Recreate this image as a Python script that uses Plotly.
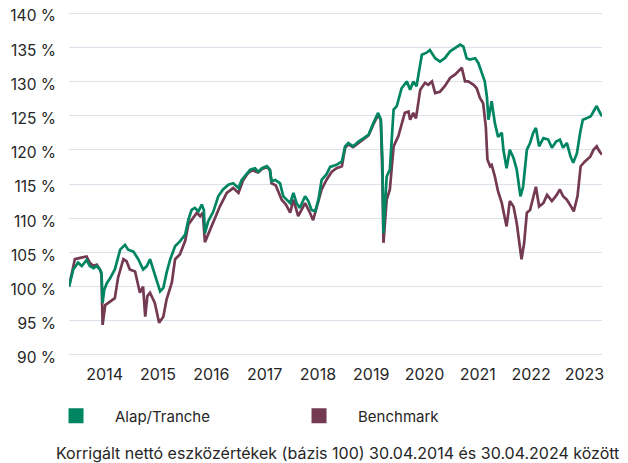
import plotly.graph_objects as go

# ---- data ----
fund_name = "Alap/Tranche"
bench_name = "Benchmark"

fund_t = [2014.33, 2014.41, 2014.50, 2014.57, 2014.66, 2014.72, 2014.79, 2014.85, 2014.91, 2014.94,
          2014.96, 2014.99, 2015.04, 2015.10, 2015.19, 2015.29, 2015.38, 2015.44, 2015.54, 2015.63,
          2015.72, 2015.79, 2015.85, 2015.91, 2015.98, 2016.04, 2016.10, 2016.16, 2016.23, 2016.32,
          2016.41, 2016.51, 2016.57, 2016.63, 2016.69, 2016.76, 2016.82, 2016.86, 2016.88, 2016.94,
          2017.04, 2017.13, 2017.22, 2017.32, 2017.41, 2017.51, 2017.57, 2017.66, 2017.73, 2017.82,
          2017.88, 2017.95, 2018.04, 2018.10, 2018.13, 2018.20, 2018.29, 2018.35, 2018.41, 2018.48,
          2018.54, 2018.60, 2018.66, 2018.76, 2018.82, 2018.88, 2018.95, 2019.01, 2019.07, 2019.16,
          2019.23, 2019.35, 2019.45, 2019.51, 2019.57, 2019.66, 2019.76, 2019.85, 2019.95, 2020.04,
          2020.13, 2020.18, 2020.21, 2020.23, 2020.29, 2020.35, 2020.42, 2020.48, 2020.57, 2020.67,
          2020.73, 2020.79, 2020.85, 2020.95, 2021.04, 2021.10, 2021.20, 2021.29, 2021.38, 2021.48,
          2021.57, 2021.67, 2021.73, 2021.79, 2021.85, 2021.95, 2022.01, 2022.07, 2022.13, 2022.17,
          2022.20, 2022.26, 2022.32, 2022.38, 2022.45, 2022.48, 2022.54, 2022.60, 2022.67, 2022.73,
          2022.80, 2022.85, 2022.92, 2022.98, 2023.04, 2023.09, 2023.15, 2023.23, 2023.32, 2023.39,
          2023.47, 2023.54, 2023.60, 2023.67, 2023.74, 2023.79, 2023.86, 2023.92, 2023.97, 2024.04,
          2024.12, 2024.17, 2024.23, 2024.28, 2024.33]
fund_v = [100.0, 102.5, 103.5, 103.0, 103.9, 103.0, 102.7, 103.0, 102.5, 102.0,
          97.6, 99.5, 100.5, 101.2, 102.5, 105.4, 106.1, 105.4, 105.1, 104.0,
          102.5, 103.0, 104.0, 102.5, 100.5, 99.3, 99.8, 102.0, 104.0, 105.9,
          106.6, 107.6, 109.8, 111.2, 111.5, 111.0, 112.0, 111.2, 107.8, 109.5,
          111.0, 113.2, 114.2, 114.9, 115.1, 114.4, 115.6, 116.4, 117.1, 117.3,
          116.8, 117.3, 117.6, 117.1, 115.4, 115.6, 115.1, 113.2, 112.7, 112.2,
          113.7, 112.2, 111.5, 113.2, 112.5, 111.2, 111.0, 112.7, 115.6, 116.4,
          117.5, 117.8, 118.3, 120.5, 121.0, 120.5, 121.2, 121.7, 122.2, 123.9,
          125.4, 124.4, 118.6, 107.8, 116.1, 117.1, 125.9, 126.4, 129.0, 130.0,
          128.8, 130.0, 129.3, 133.9, 134.2, 134.6, 133.4, 132.9, 133.4, 134.4,
          134.9, 135.4, 135.1, 133.4, 133.2, 133.4, 132.7, 131.5, 130.0, 127.8,
          124.4, 127.1, 123.9, 121.9, 122.5, 120.0, 117.3, 120.0, 118.8, 117.1,
          113.2, 114.6, 120.0, 121.0, 122.5, 123.2, 120.5, 121.7, 121.5, 120.3,
          121.2, 121.5, 120.3, 121.0, 119.0, 118.1, 119.5, 122.5, 124.4, 124.6,
          124.9, 125.6, 126.4, 125.6, 124.9]

bench_t = [2014.33, 2014.44, 2014.54, 2014.66, 2014.72, 2014.79, 2014.85, 2014.91, 2014.94, 2014.96,
           2015.01, 2015.10, 2015.19, 2015.25, 2015.35, 2015.41, 2015.47, 2015.57, 2015.66, 2015.72,
           2015.76, 2015.80, 2015.85, 2015.94, 2016.02, 2016.10, 2016.16, 2016.26, 2016.32, 2016.41,
           2016.51, 2016.57, 2016.63, 2016.73, 2016.79, 2016.84, 2016.88, 2016.94, 2017.04, 2017.16,
           2017.29, 2017.41, 2017.51, 2017.60, 2017.69, 2017.76, 2017.88, 2017.95, 2018.05, 2018.10,
           2018.13, 2018.21, 2018.32, 2018.40, 2018.48, 2018.54, 2018.63, 2018.76, 2018.85, 2018.91,
           2018.98, 2019.07, 2019.16, 2019.26, 2019.35, 2019.45, 2019.51, 2019.57, 2019.66, 2019.76,
           2019.85, 2019.95, 2020.04, 2020.13, 2020.18, 2020.21, 2020.23, 2020.29, 2020.35, 2020.42,
           2020.51, 2020.57, 2020.63, 2020.70, 2020.73, 2020.79, 2020.84, 2020.92, 2021.01, 2021.07,
           2021.14, 2021.20, 2021.29, 2021.38, 2021.48, 2021.57, 2021.67, 2021.70, 2021.76, 2021.82,
           2021.92, 2021.98, 2022.04, 2022.10, 2022.15, 2022.18, 2022.23, 2022.26, 2022.32, 2022.38,
           2022.45, 2022.54, 2022.60, 2022.67, 2022.73, 2022.79, 2022.82, 2022.87, 2022.92, 2022.98,
           2023.04, 2023.09, 2023.15, 2023.23, 2023.30, 2023.39, 2023.48, 2023.54, 2023.60, 2023.67,
           2023.75, 2023.80, 2023.87, 2023.93, 2024.01, 2024.11, 2024.17, 2024.23, 2024.28, 2024.33]
bench_v = [100.0, 104.0, 104.2, 104.4, 103.5, 103.0, 103.2, 102.5, 101.8, 94.4,
           97.3, 97.8, 98.3, 101.3, 104.0, 103.7, 102.5, 102.2, 99.1, 100.0,
           95.6, 98.6, 99.1, 97.6, 94.7, 95.6, 98.1, 100.6, 104.0, 104.7,
           106.7, 109.1, 109.8, 110.8, 110.3, 110.8, 106.5, 107.6, 109.3, 111.7,
           113.7, 114.4, 113.7, 115.6, 116.6, 117.0, 116.7, 117.2, 117.5, 117.0,
           115.1, 114.8, 112.7, 112.0, 110.8, 112.7, 110.3, 112.2, 110.8, 109.7,
           111.7, 114.2, 115.6, 116.8, 117.3, 117.6, 120.3, 120.8, 120.4, 121.0,
           121.6, 122.1, 123.7, 125.1, 124.4, 116.1, 106.4, 112.7, 114.2, 120.5,
           122.0, 123.9, 125.4, 125.6, 124.4, 125.4, 124.6, 128.8, 129.8, 129.5,
           130.0, 128.3, 128.5, 129.3, 130.5, 131.0, 131.8, 132.0, 130.0, 130.0,
           129.5, 129.0, 127.6, 126.8, 123.4, 118.6, 117.6, 117.8, 116.1, 113.9,
           112.2, 108.8, 112.5, 111.7, 109.3, 105.9, 104.0, 106.4, 110.8, 111.2,
           113.2, 114.6, 111.7, 112.2, 113.4, 112.5, 113.4, 114.2, 113.2, 112.7,
           111.7, 111.0, 113.2, 117.6, 118.3, 119.0, 120.0, 120.5, 119.8, 119.3]

# year-end tick positions and their labels
year_labels = ["2014", "2015", "2016", "2017", "2018", "2019", "2020", "2021", "2022", "2023"]
y_ticks = [90, 95, 100, 105, 110, 115, 120, 125, 130, 135, 140]
caption = "Korrigált nettó eszközértékek (bázis 100) 30.04.2014 és 30.04.2024 között"

GREEN = "#008562"
MAROON = "#733a52"
TEXT = "#262626"
GRID = "#dde2ea"
FONT = "Inter"

year_end_vals = [int(y) + 1 for y in year_labels]
y_tick_text = [f"{v} %" for v in y_ticks]

fig = go.Figure()
fig.add_trace(go.Scatter(x=bench_t, y=bench_v, mode="lines", name=bench_name,
                         line=dict(color=MAROON, width=2.7), showlegend=False, hoverinfo="skip"))
fig.add_trace(go.Scatter(x=fund_t, y=fund_v, mode="lines", name=fund_name,
                         line=dict(color=GREEN, width=2.7), showlegend=False, hoverinfo="skip"))
# legend entries as squares
fig.add_trace(go.Scatter(x=[None], y=[None], mode="markers", name=fund_name,
                         marker=dict(symbol="square", size=15, color=GREEN)))
fig.add_trace(go.Scatter(x=[None], y=[None], mode="markers", name=bench_name,
                         marker=dict(symbol="square", size=15, color=MAROON)))

fig.update_layout(
    template="none",
    width=628, height=463,
    margin=dict(l=61, r=34, t=3, b=114, autoexpand=False),
    paper_bgcolor="white", plot_bgcolor="white",
    font=dict(family=FONT, size=15, color=TEXT),
    showlegend=True,
    legend=dict(orientation="h", x=-0.060, xanchor="left", y=-0.1705, yanchor="middle",
                itemwidth=68, entrywidth=160, entrywidthmode="pixels",
                font=dict(family=FONT, size=15, color=TEXT), bgcolor="rgba(0,0,0,0)",
                traceorder="normal"),
    xaxis=dict(range=[2014.33, 2024.33], tickmode="array", tickvals=year_end_vals,
               ticktext=year_labels, automargin=False,
               showgrid=False, zeroline=False, showline=False, ticks="",
               ticklabelstandoff=6, tickfont=dict(family=FONT, size=16, color=TEXT)),
    yaxis=dict(range=[89.7, 140.3], tickmode="array", tickvals=y_ticks, ticktext=y_tick_text,
               automargin=False, showgrid=True, gridcolor=GRID, gridwidth=1,
               zeroline=False, showline=False, ticks="", ticklabelstandoff=12,
               ticklabelshift=3, ticklabeloverflow="allow",
               tickfont=dict(family=FONT, size=15.5, color=TEXT)),
    annotations=[dict(text=caption, xref="paper", yref="paper", x=-0.0281, y=-0.2775,
                      xanchor="left", yanchor="middle", showarrow=False,
                      font=dict(family=FONT, size=16.0, color=TEXT))],
)

fig.write_html("out.html")
